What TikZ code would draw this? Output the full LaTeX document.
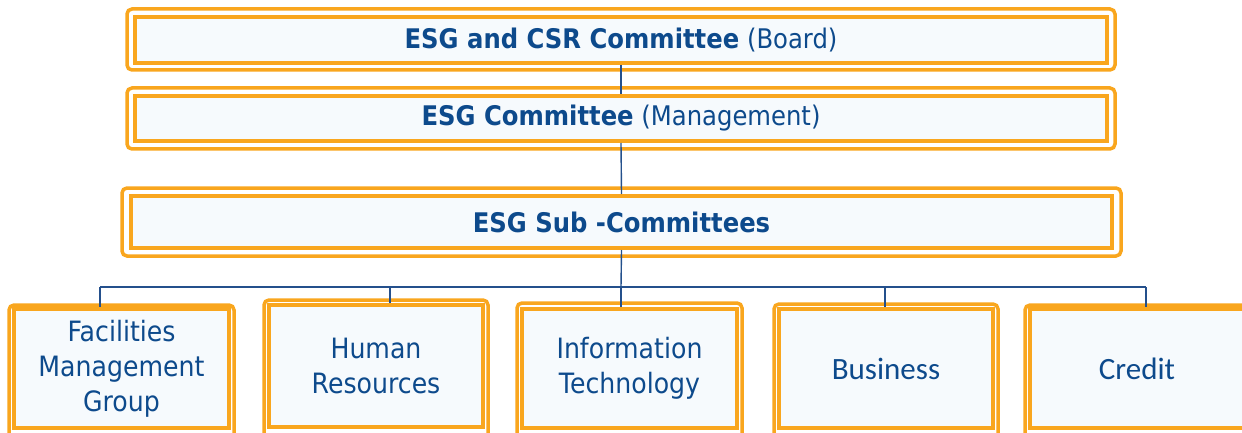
\documentclass[tikz,border=0pt]{standalone}
\usepackage{fontspec}
\setmainfont{DejaVu Sans}[FakeStretch=0.9]
\newfontfamily\calfont{Carlito}
\definecolor{org}{HTML}{F9A61E}
\definecolor{boxfill}{HTML}{F6FAFD}
\definecolor{txt}{HTML}{0D4A8C}
\definecolor{ln}{HTML}{24508C}
\tikzset{
  inbox/.style={draw=org, line width=4pt, fill=boxfill, inner sep=0pt, text=txt, align=center},
  outbox/.style={draw=org, line width=3.5pt, rounded corners=5pt, fill=white},
  conn/.style={draw=ln, line width=1.4pt},
  toptext/.style={font=\fontsize{27}{30}\selectfont},
  lowtext/.style={font=\fontsize{28}{35}\selectfont},
  caltext/.style={font=\calfont\fontsize{31}{35}\selectfont},
}
\begin{document}
\begin{tikzpicture}[x=1pt,y=-1pt]
\useasboundingbox (0,0) rectangle (1242,433);
\clip (0,0) rectangle (1242,433);
\fill[white] (0,0) rectangle (1242,433);
% outer frames
\draw[outbox] (127,9) rectangle (1115,70);
\draw[outbox] (127,88) rectangle (1115,149);
\draw[outbox] (122,188) rectangle (1121,256);
\draw[outbox] (9,305) rectangle (234,445);
\draw[outbox] (264,300) rectangle (488,445);
\draw[outbox] (517,303) rectangle (742,445);
\draw[outbox] (774,304) rectangle (998,445);
\draw[outbox] (1025,305) rectangle (1250,445);
% inner boxes
\node[inbox, toptext, minimum width=972pt, minimum height=46pt] (b1) at (621,40) {\textbf{ESG and CSR Committee} (Board)};
\node[inbox, toptext, minimum width=972pt, minimum height=45pt] (b2) at (621,118.5) {\textbf{ESG Committee} (Management)};
\node[inbox, toptext, minimum width=981pt, minimum height=52pt] (b3) at (621.5,222) {\textbf{ESG Sub -Committees}};
\node[inbox, lowtext, minimum width=215pt, minimum height=119pt] (fmg) at (121.5,368.5) {Facilities\\Management\\Group};
\node[inbox, lowtext, minimum width=214pt, minimum height=122pt] (hr) at (376,366) {Human\\Resources};
\node[inbox, lowtext, minimum width=215pt, minimum height=119pt] (it) at (629.5,368.5) {Information\\Technology};
\node[inbox, caltext, minimum width=214pt, minimum height=119pt] (bus) at (886,368.5) {Business};
\node[inbox, caltext, minimum width=214pt, minimum height=119pt] (cr) at (1137,368.5) {Credit};
% connectors
\coordinate (busL) at (100,287);
\coordinate (busR) at (1146,287);
\coordinate (busM) at (621,287);
\coordinate (busH) at (390,287);
\coordinate (busB) at (885,287);
\draw[conn] (b1.south) -- (b2.north);
\draw[conn] (b2.south) -- (b3.north);
\draw[conn] (b3.south) -- (busM);
\draw[conn] (busL) -- (busR);
\draw[conn] (busL) -- (busL |- fmg.north);
\draw[conn] (busH) -- (busH |- hr.north);
\draw[conn] (busM) -- (busM |- it.north);
\draw[conn] (busB) -- (busB |- bus.north);
\draw[conn] (busR) -- (busR |- cr.north);
\end{tikzpicture}
\end{document}
